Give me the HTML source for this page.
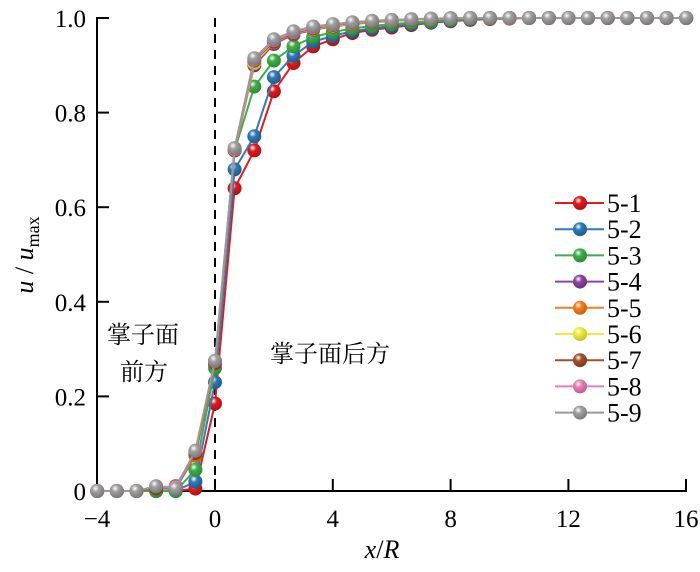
<!DOCTYPE html>
<html><head><meta charset="utf-8"><style>
html,body{margin:0;padding:0;background:#fff}
svg{display:block}
</style></head><body>
<svg width="700" height="572" viewBox="0 0 700 572" xmlns="http://www.w3.org/2000/svg" font-family="'Liberation Serif', 'Times New Roman', serif" style="font-family:'Liberation Serif','Times New Roman',serif">
<defs>
<radialGradient id="r0" cx="0.38" cy="0.32" r="0.7"><stop offset="0" stop-color="#fff"/><stop offset="0.35" stop-color="#e31a1c"/><stop offset="1" stop-color="#b01010"/></radialGradient>
<radialGradient id="r1" cx="0.38" cy="0.32" r="0.7"><stop offset="0" stop-color="#fff"/><stop offset="0.35" stop-color="#2f7ab9"/><stop offset="1" stop-color="#1d5a8e"/></radialGradient>
<radialGradient id="r2" cx="0.38" cy="0.32" r="0.7"><stop offset="0" stop-color="#fff"/><stop offset="0.35" stop-color="#3fae49"/><stop offset="1" stop-color="#2a8a33"/></radialGradient>
<radialGradient id="r3" cx="0.38" cy="0.32" r="0.7"><stop offset="0" stop-color="#fff"/><stop offset="0.35" stop-color="#8e44a0"/><stop offset="1" stop-color="#6a2f7a"/></radialGradient>
<radialGradient id="r4" cx="0.38" cy="0.32" r="0.7"><stop offset="0" stop-color="#fff"/><stop offset="0.35" stop-color="#f57e20"/><stop offset="1" stop-color="#c85f10"/></radialGradient>
<radialGradient id="r5" cx="0.38" cy="0.32" r="0.7"><stop offset="0" stop-color="#fff"/><stop offset="0.35" stop-color="#f0ea3a"/><stop offset="1" stop-color="#c8c020"/></radialGradient>
<radialGradient id="r6" cx="0.38" cy="0.32" r="0.7"><stop offset="0" stop-color="#fff"/><stop offset="0.35" stop-color="#a0522d"/><stop offset="1" stop-color="#7a3a1c"/></radialGradient>
<radialGradient id="r7" cx="0.38" cy="0.32" r="0.7"><stop offset="0" stop-color="#fff"/><stop offset="0.35" stop-color="#e77fb6"/><stop offset="1" stop-color="#c25a92"/></radialGradient>
<radialGradient id="r8" cx="0.38" cy="0.32" r="0.7"><stop offset="0" stop-color="#fff"/><stop offset="0.35" stop-color="#a0a0a0"/><stop offset="1" stop-color="#777"/></radialGradient>
<marker id="m0" markerUnits="userSpaceOnUse" markerWidth="16" markerHeight="16" refX="8" refY="8" overflow="visible"><circle cx="8" cy="8" r="7" fill="url(#r0)"/></marker>
<marker id="m1" markerUnits="userSpaceOnUse" markerWidth="16" markerHeight="16" refX="8" refY="8" overflow="visible"><circle cx="8" cy="8" r="7" fill="url(#r1)"/></marker>
<marker id="m2" markerUnits="userSpaceOnUse" markerWidth="16" markerHeight="16" refX="8" refY="8" overflow="visible"><circle cx="8" cy="8" r="7" fill="url(#r2)"/></marker>
<marker id="m3" markerUnits="userSpaceOnUse" markerWidth="16" markerHeight="16" refX="8" refY="8" overflow="visible"><circle cx="8" cy="8" r="7" fill="url(#r3)"/></marker>
<marker id="m4" markerUnits="userSpaceOnUse" markerWidth="16" markerHeight="16" refX="8" refY="8" overflow="visible"><circle cx="8" cy="8" r="7" fill="url(#r4)"/></marker>
<marker id="m5" markerUnits="userSpaceOnUse" markerWidth="16" markerHeight="16" refX="8" refY="8" overflow="visible"><circle cx="8" cy="8" r="7" fill="url(#r5)"/></marker>
<marker id="m6" markerUnits="userSpaceOnUse" markerWidth="16" markerHeight="16" refX="8" refY="8" overflow="visible"><circle cx="8" cy="8" r="7" fill="url(#r6)"/></marker>
<marker id="m7" markerUnits="userSpaceOnUse" markerWidth="16" markerHeight="16" refX="8" refY="8" overflow="visible"><circle cx="8" cy="8" r="7" fill="url(#r7)"/></marker>
<marker id="m8" markerUnits="userSpaceOnUse" markerWidth="16" markerHeight="16" refX="8" refY="8" overflow="visible"><circle cx="8" cy="8" r="7" fill="url(#r8)"/></marker>
</defs>

<g stroke="#000" stroke-width="2">
<line x1="97" y1="17" x2="97" y2="492"/>
<line x1="96" y1="491" x2="687" y2="491"/>
<line x1="97" y1="18" x2="109" y2="18"/>
<line x1="97" y1="112.6" x2="109" y2="112.6"/>
<line x1="97" y1="207.2" x2="109" y2="207.2"/>
<line x1="97" y1="301.8" x2="109" y2="301.8"/>
<line x1="97" y1="396.4" x2="109" y2="396.4"/>
<line x1="215" y1="491" x2="215" y2="479"/>
<line x1="332.8" y1="491" x2="332.8" y2="479"/>
<line x1="450.6" y1="491" x2="450.6" y2="479"/>
<line x1="568.4" y1="491" x2="568.4" y2="479"/>
<line x1="686" y1="491" x2="686" y2="479"/>
<line x1="215" y1="18" x2="215" y2="491" stroke-dasharray="9,7"/>
</g>
<g font-size="25" text-anchor="end" font-family="'Liberation Serif', serif">
<text x="86" y="27">1.0</text>
<text x="86" y="121.6">0.8</text>
<text x="86" y="216.2">0.6</text>
<text x="86" y="310.8">0.4</text>
<text x="86" y="405.4">0.2</text>
<text x="86" y="500">0</text>
</g>
<g font-size="25" text-anchor="middle" font-family="'Liberation Serif', serif">
<text x="97" y="527">−4</text>
<text x="215" y="527">0</text>
<text x="332.8" y="527">4</text>
<text x="450.6" y="527">8</text>
<text x="568.4" y="527">12</text>
<text x="686" y="527">16</text>
</g>

<g fill="none" stroke-width="2">
<polyline stroke="#e31a1c" marker-start="url(#m0)" marker-mid="url(#m0)" marker-end="url(#m0)" points="97.2,491 116.8,491 136.5,491 156.1,491 175.7,491 195.4,488.6 215,403.5 234.6,188.3 254.3,150.4 273.9,91.3 293.5,63 313.2,46.4 332.8,39.3 352.4,33.1 372.1,29.8 391.7,27.5 411.3,25.1 431,22.7 450.6,21.3 470.2,19.9 489.9,19 509.5,18.5 529.1,18 548.8,18 568.4,18 588,18 607.7,18 627.3,18 646.9,18 666.6,18 686.2,18"/>
<polyline stroke="#2f7ab9" marker-start="url(#m1)" marker-mid="url(#m1)" marker-end="url(#m1)" points="97.2,491 116.8,491 136.5,491 156.1,491 175.7,491 195.4,481.5 215,382.2 234.6,169.4 254.3,136.3 273.9,77.1 293.5,55.8 313.2,41.7 332.8,36 352.4,31.2 372.1,28.4 391.7,26 411.3,24.1 431,22.3 450.6,20.8 470.2,19.4 489.9,18.5 509.5,18 529.1,18 548.8,18 568.4,18 588,18 607.7,18 627.3,18 646.9,18 666.6,18 686.2,18"/>
<polyline stroke="#3fae49" marker-start="url(#m2)" marker-mid="url(#m2)" marker-end="url(#m2)" points="97.2,491 116.8,491 136.5,491 156.1,491 175.7,491 195.4,469.7 215,368 234.6,150.4 254.3,86.6 273.9,60.6 293.5,46.4 313.2,37 332.8,32.2 352.4,28.4 372.1,26 391.7,24.1 411.3,22.7 431,21.3 450.6,19.9 470.2,18.8 489.9,18.2 509.5,18 529.1,18 548.8,18 568.4,18 588,18 607.7,18 627.3,18 646.9,18 666.6,18 686.2,18"/>
<polyline stroke="#8e44a0" marker-start="url(#m3)" marker-mid="url(#m3)" marker-end="url(#m3)" points="97.2,491 116.8,491 136.5,491 156.1,488.6 175.7,488.6 195.4,455.5 215,363.3 234.6,150.4 254.3,65.3 273.9,44 293.5,34.5 313.2,29.8 332.8,26.5 352.4,24.1 372.1,22.3 391.7,20.8 411.3,19.9 431,19 450.6,18.5 470.2,18 489.9,18 509.5,18 529.1,18 548.8,18 568.4,18 588,18 607.7,18 627.3,18 646.9,18 666.6,18 686.2,18"/>
<polyline stroke="#f57e20" marker-start="url(#m4)" marker-mid="url(#m4)" marker-end="url(#m4)" points="97.2,491 116.8,491 136.5,491 156.1,488.6 175.7,486.3 195.4,455.5 215,363.3 234.6,150.4 254.3,63 273.9,42.6 293.5,33.6 313.2,29.2 332.8,26 352.4,23.8 372.1,22 391.7,20.6 411.3,19.7 431,19 450.6,18.5 470.2,18 489.9,18 509.5,18 529.1,18 548.8,18 568.4,18 588,18 607.7,18 627.3,18 646.9,18 666.6,18 686.2,18"/>
<polyline stroke="#f0ea3a" marker-start="url(#m5)" marker-mid="url(#m5)" marker-end="url(#m5)" points="97.2,491 116.8,491 136.5,491 156.1,488.6 175.7,486.3 195.4,453.2 215,363.3 234.6,150.4 254.3,63 273.9,41.7 293.5,33.1 313.2,28.9 332.8,25.6 352.4,23.4 372.1,21.7 391.7,20.4 411.3,19.5 431,18.8 450.6,18.3 470.2,18 489.9,18 509.5,18 529.1,18 548.8,18 568.4,18 588,18 607.7,18 627.3,18 646.9,18 666.6,18 686.2,18"/>
<polyline stroke="#a0522d" marker-start="url(#m6)" marker-mid="url(#m6)" marker-end="url(#m6)" points="97.2,491 116.8,491 136.5,491 156.1,488.6 175.7,486.3 195.4,453.2 215,363.3 234.6,150.4 254.3,60.6 273.9,41.7 293.5,33.1 313.2,28.4 332.8,25.1 352.4,23.1 372.1,21.5 391.7,20.2 411.3,19.4 431,18.7 450.6,18.2 470.2,18 489.9,18 509.5,18 529.1,18 548.8,18 568.4,18 588,18 607.7,18 627.3,18 646.9,18 666.6,18 686.2,18"/>
<polyline stroke="#e77fb6" marker-start="url(#m7)" marker-mid="url(#m7)" marker-end="url(#m7)" points="97.2,491 116.8,491 136.5,491 156.1,486.3 175.7,487.2 195.4,450.8 215,360.9 234.6,149.5 254.3,59.6 273.9,40.3 293.5,32.2 313.2,27.5 332.8,24.6 352.4,22.7 372.1,21.1 391.7,20 411.3,19.2 431,18.6 450.6,18.2 470.2,18 489.9,18 509.5,18 529.1,18 548.8,18 568.4,18 588,18 607.7,18 627.3,18 646.9,18 666.6,18 686.2,18"/>
<polyline stroke="#999999" marker-start="url(#m8)" marker-mid="url(#m8)" marker-end="url(#m8)" points="97.2,491 116.8,491 136.5,491 156.1,486.3 175.7,488.6 195.4,450.8 215,360.9 234.6,148.1 254.3,58.2 273.9,39.3 293.5,31.2 313.2,26.5 332.8,24.1 352.4,22.3 372.1,20.8 391.7,19.9 411.3,19.2 431,18.6 450.6,18.2 470.2,18 489.9,18 509.5,18 529.1,18 548.8,18 568.4,18 588,18 607.7,18 627.3,18 646.9,18 666.6,18 686.2,18"/>
</g>

<g stroke-width="2">
<line x1="555" y1="203" x2="604" y2="203" stroke="#e31a1c"/><circle cx="580" cy="203" r="7" fill="url(#r0)"/>
<line x1="555" y1="229.2" x2="604" y2="229.2" stroke="#2f7ab9"/><circle cx="580" cy="229.2" r="7" fill="url(#r1)"/>
<line x1="555" y1="255.4" x2="604" y2="255.4" stroke="#3fae49"/><circle cx="580" cy="255.4" r="7" fill="url(#r2)"/>
<line x1="555" y1="281.6" x2="604" y2="281.6" stroke="#8e44a0"/><circle cx="580" cy="281.6" r="7" fill="url(#r3)"/>
<line x1="555" y1="307.8" x2="604" y2="307.8" stroke="#f57e20"/><circle cx="580" cy="307.8" r="7" fill="url(#r4)"/>
<line x1="555" y1="334" x2="604" y2="334" stroke="#f0ea3a"/><circle cx="580" cy="334" r="7" fill="url(#r5)"/>
<line x1="555" y1="360.2" x2="604" y2="360.2" stroke="#a0522d"/><circle cx="580" cy="360.2" r="7" fill="url(#r6)"/>
<line x1="555" y1="386.4" x2="604" y2="386.4" stroke="#e77fb6"/><circle cx="580" cy="386.4" r="7" fill="url(#r7)"/>
<line x1="555" y1="412.6" x2="604" y2="412.6" stroke="#999999"/><circle cx="580" cy="412.6" r="7" fill="url(#r8)"/>
</g>
<g font-size="26" font-family="'Liberation Serif', serif">
<text x="607" y="212">5-1</text>
<text x="607" y="238.2">5-2</text>
<text x="607" y="264.4">5-3</text>
<text x="607" y="290.6">5-4</text>
<text x="607" y="316.8">5-5</text>
<text x="607" y="343">5-6</text>
<text x="607" y="369.2">5-7</text>
<text x="607" y="395.4">5-8</text>
<text x="607" y="421.6">5-9</text>
</g>

<g font-size="24" font-family="'Noto Serif CJK SC', serif">
<text x="107" y="343">掌子面</text>
<text x="120" y="380">前方</text>
<text x="270" y="362">掌子面后方</text>
</g>
<text x="382" y="558" font-size="26" text-anchor="middle" font-family="'Liberation Serif', serif"><tspan font-style="italic">x</tspan>/<tspan font-style="italic">R</tspan></text>
<text transform="translate(33,255) rotate(-90)" font-size="26" text-anchor="middle" font-family="'Liberation Serif', serif"><tspan font-style="italic">u</tspan> / <tspan font-style="italic">u</tspan><tspan font-size="18" dy="6">max</tspan></text>
</svg>
</body></html>
